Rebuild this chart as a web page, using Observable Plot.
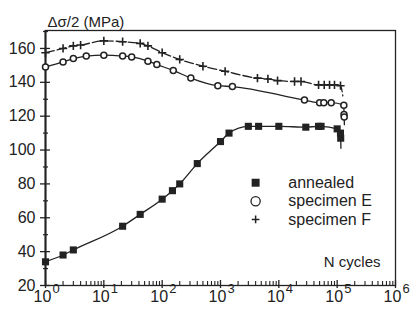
<!DOCTYPE html>
<html><head><meta charset="utf-8">
<script src="https://cdn.jsdelivr.net/npm/d3@7"></script>
<script src="https://cdn.jsdelivr.net/npm/@observablehq/plot@0.6"></script>
<style>
html,body{margin:0;padding:0;background:#fff;}
#chart svg{display:block;}
</style></head><body><div id="chart"></div>
<script>
// ---- data ----
const annealedN = [1, 2, 3, 21, 42, 100, 150, 200, 400, 1000, 1400, 3000, 4500, 10000, 29000, 48000, 53000, 100000, 114000, 115000];
const annealedS = [34, 38, 41, 55, 62, 71, 76, 80, 92, 105, 110, 114, 114, 114, 113.5, 114, 114, 112.5, 110, 107];
const annealedTailN = [116000];
const annealedTailS = [101];

const specEN = [1, 2, 3, 5, 10, 21, 30, 57, 81, 155, 310, 900, 1600, 27500, 50000, 59000, 79000, 130000, 131000, 132000];
const specES = [149, 152, 154, 155.5, 156, 155.5, 155, 152.5, 150.5, 147, 142.5, 138, 137.5, 129.5, 128, 128, 128, 126.5, 121, 119.5];
const specETailN = [133000];
const specETailS = [115];

const specFN = [1, 2, 3, 4, 10, 21, 42, 57, 100, 200, 500, 1200, 4300, 6500, 9500, 18600, 24000, 48000, 60000, 74000, 90000, 114000];
const specFS = [157.5, 160, 161.5, 162, 164.5, 164, 163, 161.5, 157.5, 153.5, 149.5, 146.5, 142.5, 142, 141, 140.5, 140.5, 138.5, 138.5, 138.5, 138.5, 138];
const specFTailN = [125000];
const specFTailS = [132];

const legendLabels = ["annealed", "specimen E", "specimen F"];
const yTicks = [20, 40, 60, 80, 100, 120, 140, 160];
const yMinor = [30, 50, 70, 90, 110, 130, 150, 170];
const xDecades = [1, 10, 100, 1000, 10000, 100000, 1000000];
const xExponents = ["0", "1", "2", "3", "4", "5", "6"];
const titleText = "Δσ/2 (MPa)";
const xLabelText = "N cycles";

// ---- build rows ----
const rows = (ns, ss) => ns.map((n, i) => ({n, s: ss[i]}));
const annealed = rows(annealedN, annealedS);
const specE = rows(specEN, specES);
const specF = rows(specFN, specFS);
const annealedLine = annealed.concat(rows(annealedTailN, annealedTailS));
const specELine = specE.concat(rows(specETailN, specETailS));
const specFLine = specF.concat(rows(specFTailN, specFTailS));
const xMinor = [];
for (let k = 0; k < 6; k++) for (let m = 2; m <= 9; m++) xMinor.push(m * Math.pow(10, k));

const ink = "#222";
const font = "Liberation Sans, Arial, Helvetica, sans-serif";
const legendX = 4000, legendTextX = 14500, legendY = [80.7, 69.8, 59];

const chart = Plot.plot({
  width: 411,
  height: 315,
  marginLeft: 45,
  marginRight: 16,
  marginTop: 30,
  marginBottom: 30,
  style: {fontFamily: font, color: ink, background: "#fff"},
  x: {type: "log", domain: [1, 1e6], axis: null},
  y: {domain: [20, 170.6], axis: null},
  marks: [
    Plot.frame({stroke: ink, strokeWidth: 1.3}),
    Plot.ruleX([1], {stroke: ink, strokeWidth: 2}),
    // y axis ticks & labels
    Plot.axisY(yTicks, {anchor: "left", tickSize: 10, dx: 5, tickFormat: () => "", label: null, stroke: ink, strokeWidth: 1.3}),
    Plot.axisY(yMinor, {anchor: "left", tickSize: 5, dx: 3, tickFormat: () => "", label: null, stroke: ink, strokeWidth: 1.2}),
    Plot.axisY(yTicks, {anchor: "left", tickSize: 0, tickPadding: 10, fontSize: 16, fill: ink, label: null}),
    // x axis ticks
    Plot.axisX(xDecades, {anchor: "bottom", tickSize: 8, dy: -5, tickFormat: () => "", label: null, stroke: ink, strokeWidth: 1.3}),
    Plot.axisX(xMinor, {anchor: "bottom", tickSize: 4, dy: -4, tickFormat: () => "", label: null, stroke: ink, strokeWidth: 1.1}),
    Plot.text(xDecades, {x: d => d, text: () => "10", frameAnchor: "bottom", dx: -3, dy: 16, fontSize: 16, fill: ink}),
    Plot.text(xDecades, {x: d => d, text: (d, i) => xExponents[i], frameAnchor: "bottom", textAnchor: "start", dx: 7, dy: 7, fontSize: 13, fill: ink}),
    // curves
    Plot.line(annealedLine, {x: "n", y: "s", curve: "monotone-x", stroke: ink, strokeWidth: 1.3}),
    Plot.line(specELine, {x: "n", y: "s", curve: "monotone-x", stroke: ink, strokeWidth: 1.3}),
    Plot.line(specFLine, {x: "n", y: "s", curve: "monotone-x", stroke: ink, strokeWidth: 1.3, strokeDasharray: "9,3"}),
    // markers
    Plot.dot(annealed, {x: "n", y: "s", symbol: "square", r: 4, fill: ink, stroke: null}),
    Plot.dot(specE, {x: "n", y: "s", symbol: "circle", r: 3, fill: "#fff", stroke: ink, strokeWidth: 1.5}),
    Plot.dot(specF, {x: "n", y: "s", symbol: "plus", r: 2.8, stroke: ink, strokeWidth: 1.6}),
    // legend
    Plot.dot([legendLabels[0]], {x: () => legendX, y: () => legendY[0], symbol: "square", r: 4.5, fill: ink, stroke: null}),
    Plot.dot([legendLabels[1]], {x: () => legendX, y: () => legendY[1], symbol: "circle", r: 4.6, fill: "#fff", stroke: ink, strokeWidth: 1.3}),
    Plot.dot([legendLabels[2]], {x: () => legendX, y: () => legendY[2], symbol: "plus", r: 2.6, stroke: ink, strokeWidth: 1.5}),
    Plot.text(legendLabels, {x: () => legendTextX, y: (d, i) => legendY[i], text: d => d, textAnchor: "start", fontSize: 16, fill: ink}),
    // titles
    Plot.text([titleText], {frameAnchor: "top-left", textAnchor: "start", dx: 2, dy: -14, fontSize: 15, fill: ink}),
    Plot.text([xLabelText], {frameAnchor: "bottom-right", textAnchor: "end", dx: -15, dy: -19, fontSize: 15, fill: ink})
  ]
});
document.getElementById("chart").appendChild(chart);
</script>
</body></html>
